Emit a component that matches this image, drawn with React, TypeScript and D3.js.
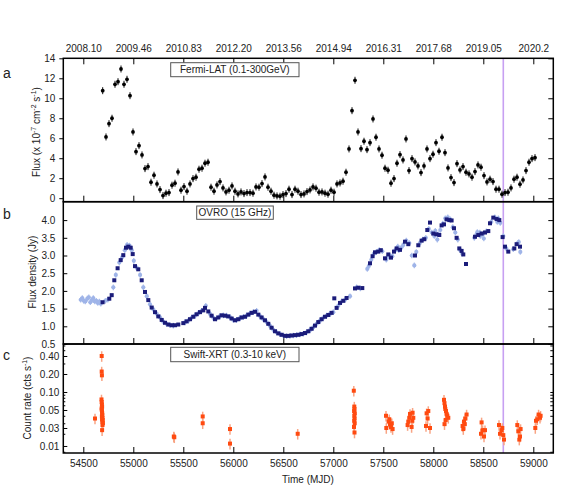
import React, { useRef, useEffect } from "react";
import * as d3 from "d3";

const mjdTicks = [54500, 55000, 55500, 56000, 56500, 57000, 57500, 58000, 58500, 59000];
const yearLabels = ["2008.10", "2009.46", "2010.83", "2012.20", "2013.56", "2014.94", "2016.31", "2017.68", "2019.05", "2020.2"];
const fermiTicks = [0, 2, 4, 6, 8, 10, 12, 14];
const ovroTicks = [0.5, 1.0, 1.5, 2.0, 2.5, 3.0, 3.5, 4.0];
const xrtTicks = [0.4, 0.2, 0.1, 0.05, 0.025, 0.0125];
const markerMjd = 58700;

// Fermi-LAT monthly bins (MJD, flux 1e-7)
const fermiTime = [
  54694, 54727, 54757, 54787, 54817, 54847, 54877, 54907, 54937, 54967, 54997, 55027, 55057, 55087, 55117, 55147,
  55177, 55207, 55237, 55267, 55297, 55327, 55357, 55387, 55417, 55447, 55477, 55507, 55537, 55567, 55597, 55627,
  55657, 55687, 55717, 55747, 55777, 55807, 55837, 55867, 55897, 55927, 55957, 55987, 56017, 56047, 56077, 56107,
  56137, 56167, 56197, 56227, 56257, 56287, 56317, 56347, 56377, 56407, 56437, 56467, 56497, 56527, 56557, 56587,
  56617, 56647, 56677, 56707, 56737, 56767, 56797, 56827, 56857, 56887, 56917, 56947, 56977, 57007, 57037, 57067,
  57097, 57127, 57157, 57187, 57217, 57247, 57277, 57307, 57337, 57367, 57397, 57427, 57457, 57487, 57517, 57547,
  57577, 57607, 57637, 57667, 57697, 57727, 57757, 57787, 57817, 57847, 57877, 57907, 57937, 57967, 57997, 58027,
  58057, 58087, 58117, 58147, 58177, 58207, 58237, 58267, 58297, 58327, 58357, 58387, 58417, 58447, 58477, 58507,
  58537, 58567, 58597, 58627, 58657, 58687, 58717, 58747, 58777, 58807, 58837, 58867, 58897, 58927, 58957, 58987,
  59017,
];
const fermiFlux = [
  10.76, 6.13, 7.46, 8.0, 11.4, 11.66, 12.93, 11.4, 11.9, 10.26, 6.63, 4.66, 5.26, 4.33, 2.96, 3.16,
  1.6, 2.3, 1.43, 0.86, 0.26, 0.5, 0.56, 1.3, 1.5, 2.63, 0.8, 1.16, 0.7, 1.43, 1.96, 2.1,
  2.9, 3.0, 3.5, 3.6, 1.1, 0.7, 1.33, 1.66, 1.03, 0.63, 0.8, 1.23, 0.7, 0.43, 0.63, 0.46,
  0.56, 0.56, 0.5, 1.13, 1.1, 1.46, 2.13, 1.1, 0.7, 0.3, 0.23, 0.2, 0.36, 0.46, 0.9, 0.36,
  0.9, 0.7, 0.36, 0.43, 0.66, 0.83, 1.13, 1.0, 0.6, 0.63, 0.5, 0.4, 0.8, 0.6, 1.43, 1.53,
  1.7, 2.6, 4.93, 8.76, 11.8, 6.63, 4.96, 5.7, 4.86, 5.56, 7.93, 6.1, 4.93, 4.3, 3.0, 2.8,
  1.5, 1.96, 3.5, 4.36, 3.83, 5.93, 2.76, 3.96, 3.63, 3.23, 2.56, 3.23, 4.93, 3.96, 4.4, 5.56,
  4.7, 6.1, 4.56, 3.03, 2.06, 1.56, 3.46, 2.83, 3.16, 2.6, 2.43, 2.1, 2.66, 3.33, 3.1, 2.26,
  1.63, 1.9, 1.66, 0.9, 0.9, 0.4, 0.56, 0.6, 1.03, 1.9, 2.1, 1.4, 1.83, 2.76, 3.6, 3.96,
  4.06,
];

// OVRO 15 GHz, dark series
const ovroTime = [
  54693, 54760, 54784, 54810, 54843, 54874, 54900, 54927, 54950, 54974, 54994, 55017, 55050, 55084, 55117, 55150,
  55184, 55217, 55250, 55284, 55317, 55350, 55384, 55417, 55450, 55500, 55533, 55567, 55600, 55633, 55667, 55700,
  55717, 55750, 55783, 55817, 55850, 55883, 55917, 55950, 55983, 56017, 56050, 56083, 56117, 56150, 56183, 56217,
  56250, 56283, 56317, 56350, 56383, 56417, 56450, 56483, 56517, 56550, 56583, 56617, 56650, 56683, 56717, 56750,
  56783, 56817, 56850, 56883, 56917, 56950, 56983, 57010, 57033, 57067, 57100, 57133, 57217, 57250, 57290, 57367,
  57393, 57417, 57450, 57475, 57517, 57550, 57577, 57607, 57633, 57667, 57717, 57750, 57817, 57850, 57883, 57910,
  57940, 57967, 58000, 58030, 58060, 58083, 58107, 58133, 58160, 58183, 58207, 58233, 58260, 58283, 58300, 58327,
  58417, 58450, 58483, 58517, 58550, 58567, 58600, 58633, 58660, 58693, 58717, 58750, 58810, 58833, 58867,
];
const ovroFlux = [
  1.68, 1.78, 1.88, 2.3, 2.64, 2.87, 3.01, 3.22, 3.25, 3.22, 3.04, 2.7, 2.61, 2.3, 1.97, 1.74,
  1.53, 1.4, 1.28, 1.18, 1.1, 1.05, 1.03, 1.03, 1.05, 1.09, 1.14, 1.2, 1.27, 1.34, 1.4, 1.45,
  1.52, 1.42, 1.3, 1.2, 1.25, 1.31, 1.3, 1.28, 1.22, 1.17, 1.2, 1.25, 1.27, 1.33, 1.38, 1.41,
  1.33, 1.25, 1.17, 1.07, 0.96, 0.86, 0.8, 0.76, 0.73, 0.73, 0.74, 0.75, 0.76, 0.78, 0.81, 0.86,
  0.93, 1.02, 1.12, 1.2, 1.27, 1.32, 1.38, 1.79, 1.52, 1.66, 1.72, 1.8, 2.07, 2.09, 2.08, 2.78,
  2.98, 3.09, 3.11, 3.15, 2.92, 3.03, 2.94, 3.11, 3.2, 3.16, 3.39, 3.32, 3.0, 3.29, 3.42, 3.46,
  3.72, 3.93, 3.62, 3.6, 3.58, 3.85, 3.88, 4.02, 4.0, 3.99, 3.77, 3.5, 3.2, 3.13, 3.03, 2.76,
  3.53, 3.58, 3.62, 3.65, 3.69, 3.91, 4.07, 4.03, 4.0, 3.52, 3.25, 3.11, 3.2, 3.32, 3.25,
];

// OVRO 15 GHz, light series (with error bars)
const ovroLightTime = [
  54474, 54490, 54505, 54520, 54540, 54555, 54570, 54585, 54600, 54615, 54630, 54645, 54660, 54675, 54720, 54745,
  54800, 54825, 54860, 54888, 54915, 54938, 54962, 54985, 55005, 55035, 55068, 55100, 55135, 55167, 55200, 55233,
  55267, 55300, 55333, 55367, 55400, 55517, 55550, 55583, 55617, 55650, 55683, 55725, 55767, 55800, 55833, 55867,
  55900, 55933, 55967, 56000, 56033, 56067, 56100, 56133, 56167, 56200, 56233, 56267, 56300, 56333, 56367, 56400,
  56433, 56467, 56500, 56533, 56567, 56600, 56633, 56667, 56700, 56733, 56767, 56800, 56833, 56867, 56900, 56933,
  56967, 57000, 57050, 57083, 57117, 57167, 57233, 57270, 57340, 57355, 57380, 57405, 57430, 57460, 57490, 57530,
  57540, 57565, 57590, 57620, 57645, 57655, 57680, 57700, 57730, 57760, 57785, 57810, 57830, 57865, 57895, 57925,
  57955, 57985, 58010, 58020, 58040, 58050, 58070, 58095, 58120, 58145, 58170, 58195, 58220, 58245, 58270, 58290,
  58410, 58430, 58440, 58465, 58470, 58495, 58505, 58530, 58580, 58615, 58640, 58650, 58670, 58700, 58730, 58800,
  58845, 58855, 58870,
];
const ovroLightFlux = [
  1.75, 1.8, 1.72, 1.7, 1.78, 1.82, 1.68, 1.74, 1.8, 1.7, 1.72, 1.66, 1.7, 1.64, 1.72, 1.75,
  2.1, 2.45, 2.8, 2.95, 3.15, 3.3, 3.28, 3.15, 2.85, 2.65, 2.45, 2.1, 1.85, 1.62, 1.48, 1.36,
  1.25, 1.13, 1.07, 1.03, 1.02, 1.11, 1.16, 1.24, 1.3, 1.37, 1.44, 1.58, 1.35, 1.24, 1.22, 1.29,
  1.31, 1.3, 1.26, 1.18, 1.18, 1.23, 1.26, 1.3, 1.36, 1.4, 1.44, 1.29, 1.2, 1.12, 1.01, 0.9,
  0.83, 0.78, 0.74, 0.72, 0.73, 0.74, 0.75, 0.77, 0.79, 0.83, 0.89, 0.97, 1.07, 1.16, 1.24, 1.3,
  1.35, 1.4, 1.58, 1.7, 1.75, 1.85, 2.1, 2.07, 2.62, 2.7, 2.88, 3.05, 3.1, 3.15, 3.12, 2.88,
  2.95, 3.0, 2.98, 3.15, 3.25, 3.15, 3.22, 3.3, 3.42, 3.35, 3.0, 2.72, 3.1, 3.35, 3.45, 3.5,
  3.75, 3.65, 3.55, 3.7, 3.45, 3.6, 3.72, 3.9, 4.05, 4.08, 4.02, 3.8, 3.65, 3.45, 3.15, 3.05,
  3.5, 3.58, 3.66, 3.65, 3.55, 3.6, 3.48, 3.68, 3.95, 4.08, 3.95, 4.05, 3.92, 3.55, 3.2, 3.18,
  3.35, 3.38, 3.1,
];

// Swift-XRT count rate
const xrtTime = [
  54617, 54684, 54684, 54686, 54682, 54684, 54686, 54688, 54683, 54685, 54687, 54689, 54690, 54686, 54692, 54688,
  54694, 54690, 54696, 54692, 54688, 55405, 55410, 55694, 55694, 55967, 55967, 56644,
  57205, 57210, 57212, 57208, 57215, 57210, 57213, 57209, 57214, 57207, 57212,
  57527, 57530, 57553, 57567, 57577, 57593, 57560, 57585,
  57743, 57750, 57767, 57783, 57793, 57800, 57760, 57790,
  57927, 57933, 57943, 57950, 57967,
  58107, 58112, 58117, 58120, 58127, 58133, 58140, 58150, 58112, 58123,
  58293, 58300, 58307, 58320, 58333, 58315,
  58477, 58483, 58493, 58507, 58517,
  58657, 58667, 58683, 58700, 58707, 58690,
  58840, 58850, 58860, 58867, 58873,
  59020, 59027, 59040, 59053, 59067, 59073,
];
const xrtRate = [
  0.036, 0.4, 0.22, 0.19, 0.075, 0.068, 0.062, 0.057, 0.053, 0.05, 0.047, 0.044, 0.041, 0.039, 0.037, 0.035,
  0.034, 0.032, 0.03, 0.028, 0.023, 0.018, 0.0175, 0.039, 0.03, 0.024, 0.0137, 0.02,
  0.105, 0.057, 0.052, 0.048, 0.044, 0.04, 0.036, 0.033, 0.03, 0.026, 0.021,
  0.04, 0.025, 0.032, 0.029, 0.026, 0.024, 0.035, 0.03,
  0.028, 0.032, 0.043, 0.026, 0.045, 0.037, 0.037, 0.033,
  0.027, 0.044, 0.036, 0.048, 0.025,
  0.074, 0.065, 0.057, 0.052, 0.048, 0.043, 0.04, 0.037, 0.029, 0.034,
  0.027, 0.024, 0.032, 0.036, 0.042, 0.029,
  0.02, 0.031, 0.023, 0.018, 0.023,
  0.028, 0.02, 0.023, 0.019, 0.016, 0.025,
  0.028, 0.022, 0.016, 0.018, 0.024,
  0.025, 0.033, 0.035, 0.042, 0.037, 0.04,
];

const fermiErr = 0.35;
const ovroLightErr = 0.08;
const xrtRelErr = 0.2;

const W = 571;
const H = 496;
const FONT = "Liberation Sans, Arial, sans-serif";

const App = () => {
  const svgRef = useRef(null);

  useEffect(() => {
    const svg = d3.select(svgRef.current);
    svg.selectAll("*").remove();

    const left = 63.3, right = 553.3;
    const topA = 58.3, topB = 201.7, topC = 344, bottom = 453;

    const x = d3.scaleLinear().domain([54300, 59200]).range([left, right]);
    const yA = d3.scaleLinear().domain([-0.35, 14]).range([topB, topA]);
    const yB = d3.scaleLinear().domain([0.5, 4.52]).range([topC, topB]);
    const yC = d3.scaleLog().base(2).domain([0.00954, 0.635]).range([bottom, topC]);

    const styleAxis = (g, size = 10) => {
      g.select(".domain").remove();
      g.selectAll("line").attr("stroke", "#000").attr("stroke-width", 1);
      g.selectAll("text").attr("font-family", FONT).attr("font-size", size).attr("fill", "#222");
    };

    // x ticks: top of panel a, bottom of each panel pointing up
    svg.append("g").attr("transform", `translate(0,${topA})`)
      .call(d3.axisBottom(x).tickValues(mjdTicks).tickSize(6).tickFormat(() => ""))
      .call(styleAxis);
    [topB, topC, bottom].forEach((yy) => {
      svg.append("g").attr("transform", `translate(0,${yy})`)
        .call(d3.axisTop(x).tickValues(mjdTicks).tickSize(6).tickFormat(() => ""))
        .call(styleAxis);
    });

    // top year labels
    svg.append("g").attr("transform", `translate(0,${topA})`)
      .call(d3.axisTop(x).tickValues(mjdTicks).tickSize(0).tickPadding(6).tickFormat((d, i) => yearLabels[i]))
      .call(styleAxis);

    // bottom MJD labels
    svg.append("g").attr("transform", `translate(0,${bottom})`)
      .call(d3.axisBottom(x).tickValues(mjdTicks).tickSize(0).tickPadding(7).tickFormat(d3.format("d")))
      .call(styleAxis);

    // y axes
    svg.append("g").attr("transform", `translate(${left},0)`)
      .call(d3.axisLeft(yA).tickValues(fermiTicks).tickSize(4).tickPadding(4))
      .call(styleAxis);
    svg.append("g").attr("transform", `translate(${right},0)`)
      .call(d3.axisLeft(yA).tickValues(fermiTicks).tickSize(5).tickFormat(() => ""))
      .call(styleAxis);

    svg.append("g").attr("transform", `translate(${left},0)`)
      .call(d3.axisRight(yB).tickValues(ovroTicks).tickSize(4).tickFormat(() => ""))
      .call(styleAxis);
    svg.append("g").attr("transform", `translate(${left},0)`)
      .call(d3.axisLeft(yB).tickValues(ovroTicks).tickSize(0).tickPadding(8).tickFormat(d3.format(".1f")))
      .call(styleAxis);
    svg.append("g").attr("transform", `translate(${right},0)`)
      .call(d3.axisLeft(yB).tickValues(ovroTicks).tickSize(5).tickFormat(() => ""))
      .call(styleAxis);

    const minorC = [];
    [0.001, 0.01, 0.1].forEach((dec) => {
      for (let k = 1; k < 10; k++) {
        const v = dec * k;
        if (v > 0.0096 && v < 0.63) minorC.push(v);
      }
    });
    svg.append("g").attr("transform", `translate(${left},0)`)
      .call(d3.axisRight(yC).tickValues(xrtTicks).tickSize(4).tickFormat(() => ""))
      .call(styleAxis);
    svg.append("g").attr("transform", `translate(${left},0)`)
      .call(d3.axisRight(yC).tickValues(minorC).tickSize(2).tickFormat(() => ""))
      .call(styleAxis);
    svg.append("g").attr("transform", `translate(${left},0)`)
      .call(d3.axisLeft(yC).tickValues(xrtTicks).tickSize(0).tickPadding(4).tickFormat(d3.format(".2f")))
      .call(styleAxis);
    svg.append("g").attr("transform", `translate(${right},0)`)
      .call(d3.axisLeft(yC).tickValues(minorC).tickSize(3).tickFormat(() => ""))
      .call(styleAxis);

    // purple marker line
    svg.append("line")
      .attr("x1", x(markerMjd)).attr("x2", x(markerMjd))
      .attr("y1", topA).attr("y2", bottom)
      .attr("stroke", "#c7a0f2").attr("stroke-width", 1.6);

    // panel a: Fermi
    const gA = svg.append("g");
    const fermi = fermiTime.map((t, i) => ({ t, v: fermiFlux[i] }));
    gA.selectAll("line.err").data(fermi).enter().append("line")
      .attr("x1", (d) => x(d.t)).attr("x2", (d) => x(d.t))
      .attr("y1", (d) => yA(d.v - fermiErr)).attr("y2", (d) => yA(d.v + fermiErr))
      .attr("stroke", "#111").attr("stroke-width", 1);
    gA.selectAll("circle").data(fermi).enter().append("circle")
      .attr("cx", (d) => x(d.t)).attr("cy", (d) => yA(d.v)).attr("r", 1.9).attr("fill", "#000");

    // panel b: OVRO
    const gB = svg.append("g");
    const light = ovroLightTime.map((t, i) => ({ t, v: ovroLightFlux[i] }));
    gB.selectAll("line.err").data(light).enter().append("line")
      .attr("x1", (d) => x(d.t)).attr("x2", (d) => x(d.t))
      .attr("y1", (d) => yB(d.v - ovroLightErr)).attr("y2", (d) => yB(d.v + ovroLightErr))
      .attr("stroke", "#a9bdec").attr("stroke-width", 1.2);
    gB.selectAll("circle").data(light).enter().append("circle")
      .attr("cx", (d) => x(d.t)).attr("cy", (d) => yB(d.v)).attr("r", 2.1).attr("fill", "#9fb4e8");
    const dark = ovroTime.map((t, i) => ({ t, v: ovroFlux[i] }));
    gB.selectAll("rect").data(dark).enter().append("rect")
      .attr("x", (d) => x(d.t) - 2).attr("y", (d) => yB(d.v) - 2)
      .attr("width", 4).attr("height", 4).attr("fill", "#1b1c7a");

    // panel c: Swift-XRT
    const gC = svg.append("g");
    const xrt = xrtTime.map((t, i) => ({ t, v: xrtRate[i] }));
    gC.selectAll("line.err").data(xrt).enter().append("line")
      .attr("x1", (d) => x(d.t)).attr("x2", (d) => x(d.t))
      .attr("y1", (d) => yC(d.v * (1 - xrtRelErr))).attr("y2", (d) => yC(d.v * (1 + xrtRelErr)))
      .attr("stroke", "#f8a484").attr("stroke-width", 1.5);
    gC.selectAll("rect").data(xrt).enter().append("rect")
      .attr("x", (d) => x(d.t) - 2).attr("y", (d) => yC(d.v) - 2)
      .attr("width", 4).attr("height", 4).attr("fill", "#ff4a10");

    // frames
    [[topA, topB], [topB, topC], [topC, bottom]].forEach(([a, b]) => {
      svg.append("rect").attr("x", left).attr("y", a).attr("width", right - left).attr("height", b - a)
        .attr("fill", "none").attr("stroke", "#000").attr("stroke-width", 1.5);
    });

    // legend boxes
    const legends = [
      { text: "Fermi-LAT (0.1-300GeV)", x0: 170.7, x1: 299, y0: 62.7, y1: 76.7 },
      { text: "OVRO (15 GHz)", x0: 196.7, x1: 273.3, y0: 206, y1: 219.3 },
      { text: "Swift-XRT (0.3-10 keV)", x0: 170.7, x1: 299, y0: 347.3, y1: 361.7 },
    ];
    legends.forEach((l) => {
      svg.append("rect").attr("x", l.x0).attr("y", l.y0).attr("width", l.x1 - l.x0).attr("height", l.y1 - l.y0)
        .attr("fill", "#fff").attr("stroke", "#555").attr("stroke-width", 1);
      svg.append("text").attr("x", (l.x0 + l.x1) / 2).attr("y", (l.y0 + l.y1) / 2 + 3.6)
        .attr("text-anchor", "middle").attr("font-family", FONT).attr("font-size", 10).attr("fill", "#222")
        .text(l.text);
    });

    // panel letters
    [["a", 78], ["b", 219], ["c", 360]].forEach(([t, yy]) => {
      svg.append("text").attr("x", 3).attr("y", yy).attr("font-family", FONT).attr("font-size", 14)
        .attr("fill", "#222").text(t);
    });

    // y titles
    const yTitle = (cx, cy, parts) => {
      const t = svg.append("text").attr("transform", `translate(${cx},${cy}) rotate(-90)`)
        .attr("text-anchor", "middle").attr("font-family", FONT).attr("font-size", 10).attr("fill", "#222");
      parts.forEach(([s, sup]) => {
        const ts = t.append("tspan").text(s);
        if (sup) ts.attr("font-size", 7).attr("dy", -4);
        else ts.attr("dy", 0);
      });
      return t;
    };
    const tA = svg.append("text").attr("transform", `translate(40,132) rotate(-90)`)
      .attr("text-anchor", "middle").attr("font-family", FONT).attr("font-size", 10).attr("fill", "#222");
    tA.append("tspan").text("Flux (x 10");
    tA.append("tspan").attr("font-size", 7).attr("dy", -4).text("-7");
    tA.append("tspan").attr("dy", 4).text(" cm");
    tA.append("tspan").attr("font-size", 7).attr("dy", -4).text("-2");
    tA.append("tspan").attr("dy", 4).text(" s");
    tA.append("tspan").attr("font-size", 7).attr("dy", -4).text("-1");
    tA.append("tspan").attr("dy", 4).text(")");

    yTitle(36, 272, [["Flux density (Jy)", false]]);

    const tC = svg.append("text").attr("transform", `translate(31,398) rotate(-90)`)
      .attr("text-anchor", "middle").attr("font-family", FONT).attr("font-size", 10).attr("fill", "#222");
    tC.append("tspan").text("Count rate (cts s");
    tC.append("tspan").attr("font-size", 7).attr("dy", -4).text("-1");
    tC.append("tspan").attr("dy", 4).text(")");

    svg.append("text").attr("x", 308).attr("y", 483).attr("text-anchor", "middle")
      .attr("font-family", FONT).attr("font-size", 10).attr("fill", "#222").text("Time (MJD)");
  }, []);

  return (
    <div>
      <svg ref={svgRef} width={W} height={H} style={{ position: "absolute", left: 0, top: 0, background: "#fff" }}></svg>
    </div>
  );
};

export default App;
